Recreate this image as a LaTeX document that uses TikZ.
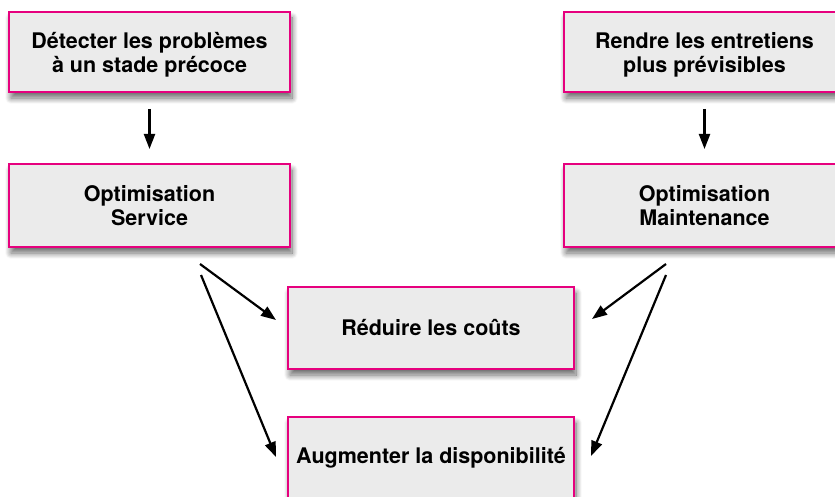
\documentclass[tikz,border=0pt]{standalone}
\usepackage{fontspec}
\setmainfont{TeX Gyre Heros}
\usetikzlibrary{arrows.meta,shadows.blur,calc}
\definecolor{boxpink}{HTML}{E6007E}
\definecolor{boxfill}{HTML}{EBEBEB}
\tikzset{
  box/.style={draw=boxpink, line width=2pt, fill=boxfill, align=center,
    font=\fontsize{21.5}{24}\selectfont\bfseries, inner sep=0pt,
    blur shadow={shadow xshift=2pt, shadow yshift=-6pt, shadow blur radius=6pt, shadow blur steps=12, shadow opacity=60}},
  arr/.style={line width=2.2pt, -{Triangle[length=15pt,width=11pt]}}
}
\begin{document}
\begin{tikzpicture}[x=1pt,y=-1pt]
\useasboundingbox (0,0) rectangle (835,497);
\clip (0,0) rectangle (835,497);
\node[box, minimum width=281pt, minimum height=80pt] (d1) at (149.5,52) {\rule{0pt}{21pt}Détecter les problèmes\\à un stade précoce};
\node[box, minimum width=281pt, minimum height=80pt] (r1) at (704.5,52) {\rule{0pt}{21pt}Rendre les entretiens\\plus prévisibles};
\node[box, minimum width=281pt, minimum height=83pt] (os) at (149.5,205.5) {Optimisation\\Service};
\node[box, minimum width=281pt, minimum height=83pt] (om) at (704.5,205.5) {Optimisation\\Maintenance};
\node[box, minimum width=286pt, minimum height=82pt] (rc) at (431,328) {Réduire les coûts};
\node[box, minimum width=286pt, minimum height=82pt] (ad) at (431,458) {Augmenter la disponibilité};
\draw[arr, shorten <=16pt, shorten >=14pt] (d1.south) -- (os.north);
\draw[arr, shorten <=16pt, shorten >=14pt] (r1.south) -- (om.north);
\coordinate (s1) at ($(os.south)+(50.5,16)$);
\coordinate (s2) at ($(os.south)+(51.5,27)$);
\coordinate (s3) at ($(om.south)+(-38.5,16)$);
\coordinate (s4) at ($(om.south)+(-38.5,27)$);
\coordinate (t1) at ($(rc.west)+(-11,-8)$);
\coordinate (t2) at ($(ad.west)+(-11,-1)$);
\coordinate (t3) at ($(rc.east)+(17,-9)$);
\coordinate (t4) at ($(ad.east)+(16,-2)$);
\draw[arr] (s1) -- (t1);
\draw[arr] (s2) -- (t2);
\draw[arr] (s3) -- (t3);
\draw[arr] (s4) -- (t4);
\end{tikzpicture}
\end{document}
